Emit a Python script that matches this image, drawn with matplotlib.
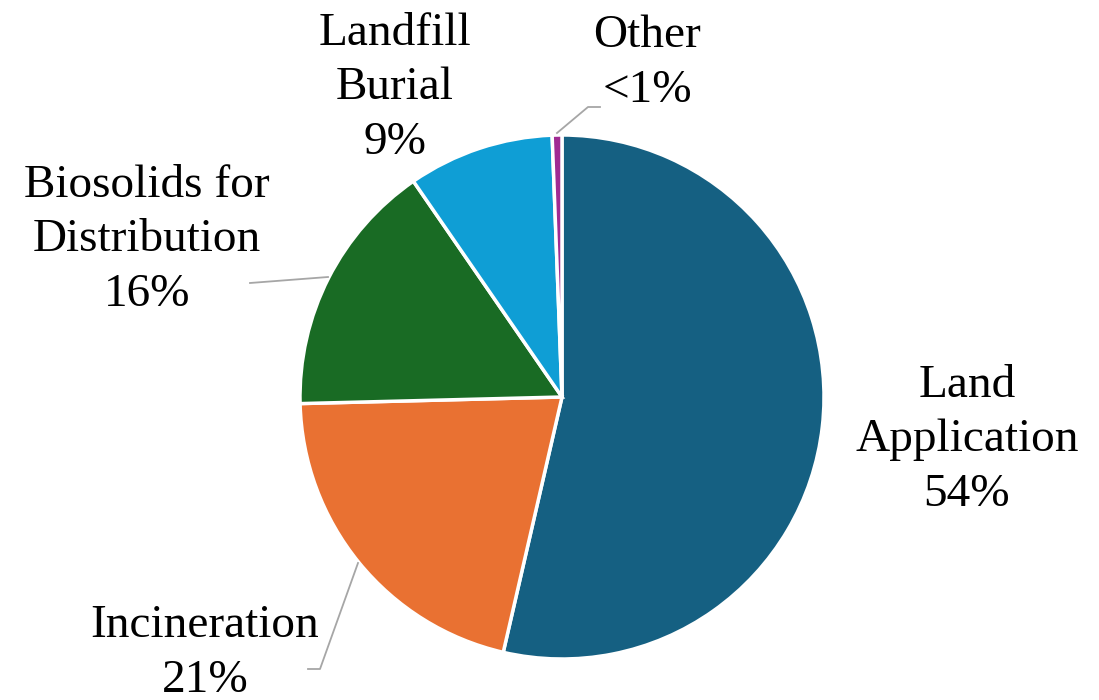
import matplotlib.pyplot as plt

# biosolids use / disposal shares (percent)
categories = ["Land\nApplication", "Incineration", "Biosolids for\nDistribution",
              "Landfill\nBurial", "Other"]
shares = [53.6, 21.0, 15.8, 9.0, 0.6]
colors = ["#156082", "#E97132", "#196B24", "#0F9ED5", "#A02B93"]

fig = plt.figure(figsize=(10.99, 7.0), dpi=100)
ax = fig.add_axes([0, 0, 1, 1])

cx, cy, r = 562, 303, 262
ax.pie(shares, colors=colors, startangle=90, counterclock=False,
       center=(cx, cy), radius=r, frame=True,
       wedgeprops=dict(edgecolor="white", linewidth=2.5))
ax.set_xlim(0, 1099)
ax.set_ylim(0, 700)
ax.set_aspect("equal")
ax.axis("off")


def pct_text(v):
    return "<1%" if v < 1 else f"{round(v)}%"


# label block centres (pixel coords, y up)
label_pos = [(967, 700 - 440), (205, 700 - 653), (147, 700 - 240),
             (395, 700 - 88), (647, 700 - 63)]
for name, v, (x, y) in zip(categories, shares, label_pos):
    ax.text(x, y, f"{name}\n{pct_text(v)}", ha="center", va="center",
            fontsize=34, family="Liberation Serif", linespacing=1.37)

# leader lines
lc = "#a6a6a6"
ax.plot([250, 328], [700 - 283, 700 - 277], color=lc, lw=1.3)
ax.plot([308, 320, 358], [700 - 669, 700 - 669, 700 - 563], color=lc, lw=1.3)
ax.plot([557, 588, 600], [700 - 133, 700 - 107, 700 - 107], color=lc, lw=1.3)

plt.savefig("out.png", dpi=100)
